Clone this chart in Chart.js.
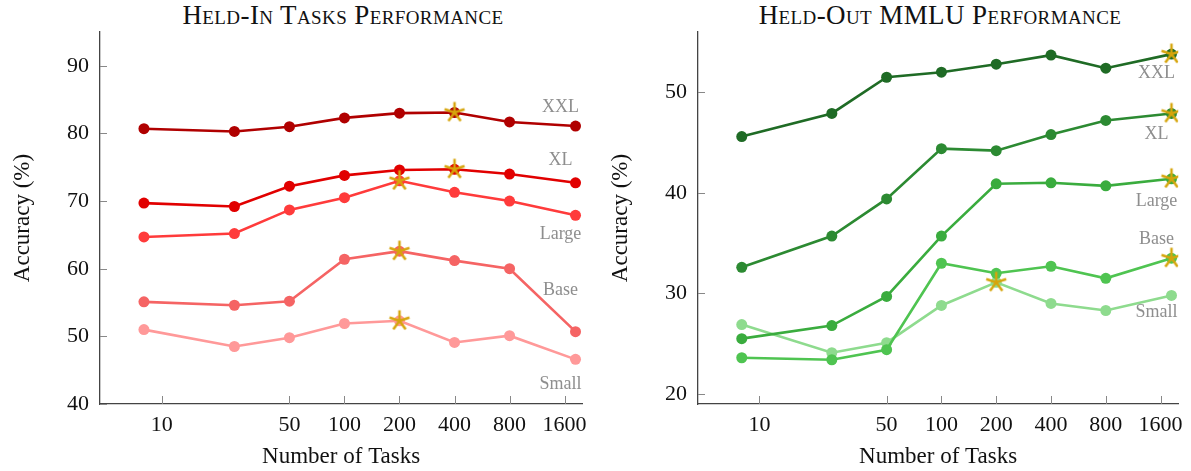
<!DOCTYPE html>
<html>
<head>
<meta charset="utf-8">
<script src="https://cdn.jsdelivr.net/npm/chart.js@4.4.0/dist/chart.umd.min.js"></script>
<style>
  body { margin: 0; background: #fff; width: 1191px; height: 471px; position: relative; overflow: hidden; font-family: "Liberation Serif", serif; }
  .panel { position: absolute; top: 0; height: 471px; }
  .title { position: absolute; top: 0; line-height: 30px; font-variant: small-caps; font-size: 27px; letter-spacing: 0.4px; color: #111; white-space: nowrap; transform: translateX(-50%); }
</style>
</head>
<body>
<div class="title" style="left:343px">Held-In Tasks Performance</div>
<div class="title" style="left:940px">Held-Out MMLU Performance</div>
<div class="panel" style="left:0;width:595px"><canvas id="heldIn"></canvas></div>
<div class="panel" style="left:598px;width:593px"><canvas id="heldOut"></canvas></div>
<script>
// values
const TASKS = [8, 25, 50, 100, 200, 400, 800, 1836];
const X_TICKS = [10, 50, 100, 200, 400, 800, 1600];
const SIZES = ['XXL', 'XL', 'Large', 'Base', 'Small'];

const IN_TICKS = [40, 50, 60, 70, 80, 90];
const IN_XXL   = [80.7, 80.3, 81.0, 82.3, 83.0, 83.1, 81.7, 81.1];
const IN_XL    = [69.7, 69.2, 72.2, 73.8, 74.6, 74.7, 74.0, 72.7];
const IN_LARGE = [64.7, 65.2, 68.7, 70.5, 73.0, 71.3, 70.0, 67.9];
const IN_BASE  = [55.1, 54.6, 55.2, 61.4, 62.6, 61.2, 60.0, 50.7];
const IN_SMALL = [51.0, 48.5, 49.8, 51.9, 52.3, 49.1, 50.1, 46.6];

const OUT_TICKS = [20, 30, 40, 50];
const OUT_XXL   = [45.6, 47.9, 51.5, 52.0, 52.8, 53.7, 52.4, 53.8];
const OUT_XL    = [32.6, 35.7, 39.4, 44.4, 44.2, 45.8, 47.2, 47.9];
const OUT_LARGE = [25.5, 26.8, 29.7, 35.7, 40.9, 41.0, 40.7, 41.4];
const OUT_BASE  = [23.6, 23.4, 24.4, 33.0, 32.0, 32.7, 31.5, 33.5];
const OUT_SMALL = [26.9, 24.1, 25.1, 28.8, 31.1, 29.0, 28.3, 29.8];

const REDS   = ['#b00000', '#e10000', '#ff3b3b', '#f56464', '#ff9999'];
const GREENS = ['#1f6b25', '#2c8a32', '#3aac3e', '#4fc451', '#8edb8e'];
const STAR_COLOR = '#d6a50c';
const FONT = "'Liberation Serif', 'Times New Roman', serif";

function makeStar(r, color, lw) {
  const c = document.createElement('canvas');
  const s = Math.ceil(2 * r + lw * 2);
  c.width = c.height = s;
  const g = c.getContext('2d');
  g.strokeStyle = color;
  g.lineWidth = lw;
  for (let i = 0; i < 5; i++) {
    const a = -Math.PI / 2 + i * 2 * Math.PI / 5;
    g.beginPath();
    g.moveTo(s / 2, s / 2);
    g.lineTo(s / 2 + r * Math.cos(a), s / 2 + r * Math.sin(a));
    g.stroke();
  }
  return c;
}
const STAR = makeStar(10.5, STAR_COLOR, 2.5);

// short tick marks pointing into the plot
const innerTicks = {
  id: 'innerTicks',
  beforeDatasetsDraw(chart) {
    const { ctx, chartArea: a, scales } = chart;
    ctx.save();
    ctx.strokeStyle = '#888';
    ctx.lineWidth = 1;
    scales.x.ticks.forEach(t => {
      const px = Math.round(scales.x.getPixelForValue(t.value)) + 0.5;
      ctx.beginPath(); ctx.moveTo(px, a.bottom); ctx.lineTo(px, a.bottom - 8); ctx.stroke();
    });
    scales.y.ticks.forEach(t => {
      const py = Math.round(scales.y.getPixelForValue(t.value)) + 0.5;
      ctx.beginPath(); ctx.moveTo(a.left, py); ctx.lineTo(a.left + 7, py); ctx.stroke();
    });
    ctx.restore();
  }
};

// size names next to the last point of each line
const endLabels = {
  id: 'endLabels',
  afterDatasetsDraw(chart, args, opts) {
    const ctx = chart.ctx;
    ctx.save();
    ctx.font = '18px ' + FONT;
    ctx.fillStyle = '#8e8e8e';
    ctx.textAlign = 'center';
    ctx.textBaseline = 'middle';
    opts.dy.forEach((dy, i) => {
      const pts = chart.getDatasetMeta(i).data;
      const p = pts[pts.length - 1];
      ctx.fillText(SIZES[i], p.x - 15, p.y + dy);
    });
    ctx.restore();
  }
};

function argmax(arr) {
  return arr.reduce((best, v, i) => v > arr[best] ? i : best, 0);
}

function renderPanel(id, series, colors, yMin, yMax, yTicks, labelDy) {
  const lines = series.map((vals, i) => ({
    type: 'line',
    label: SIZES[i],
    data: vals.map((v, j) => ({ x: TASKS[j], y: v })),
    borderColor: colors[i],
    backgroundColor: colors[i],
    pointBackgroundColor: colors[i],
    borderWidth: 2.6,
    pointRadius: 5.5,
    pointBorderWidth: 0,
    tension: 0,
    order: 2
  }));
  const stars = {
    type: 'scatter',
    label: 'best',
    data: series.map(vals => { const k = argmax(vals); return { x: TASKS[k], y: vals[k] }; }),
    pointStyle: STAR,
    pointRadius: 10,
    order: 1
  };

  new Chart(document.getElementById(id), {
    type: 'line',
    data: { datasets: [...lines, stars] },
    options: {
      responsive: true,
      maintainAspectRatio: false,
      animation: false,
      events: [],
      layout: { padding: { top: 32, right: 9, left: 0, bottom: 0 } },
      plugins: {
        legend: { display: false },
        tooltip: { enabled: false },
        endLabels: { dy: labelDy }
      },
      scales: {
        x: {
          type: 'logarithmic',
          min: 4.6,
          max: 2000,
          afterBuildTicks: s => { s.ticks = X_TICKS.map(v => ({ value: v })); },
          afterFit: s => { s.height = 67; },
          grid: { drawOnChartArea: false, drawTicks: false },
          border: { color: '#444', width: 1.3 },
          ticks: { font: { family: FONT, size: 22 }, color: '#111', padding: 8, maxRotation: 0, autoSkip: false, callback: v => String(v) },
          title: { display: true, text: 'Number of Tasks', font: { family: FONT, size: 23 }, color: '#111', padding: { top: 0, bottom: 0 } }
        },
        y: {
          min: yMin,
          max: yMax,
          afterBuildTicks: s => { s.ticks = yTicks.map(v => ({ value: v })); },
          afterFit: s => { s.width = 100; },
          grid: { drawOnChartArea: false, drawTicks: false },
          border: { color: '#444', width: 1.3 },
          ticks: { font: { family: FONT, size: 22 }, color: '#111', padding: 11 },
          title: { display: true, text: 'Accuracy (%)', font: { family: FONT, size: 23 }, color: '#111', padding: { top: 9, bottom: 0 } }
        }
      }
    },
    plugins: [innerTicks, endLabels]
  });
}

renderPanel('heldIn', [IN_XXL, IN_XL, IN_LARGE, IN_BASE, IN_SMALL], REDS, 40, 95, IN_TICKS,
  [-19, -23, 19, -41, 25]);
renderPanel('heldOut', [OUT_XXL, OUT_XL, OUT_LARGE, OUT_BASE, OUT_SMALL], GREENS, 19, 56, OUT_TICKS,
  [19, 21, 22, -19, 17]);
</script>
</body>
</html>
